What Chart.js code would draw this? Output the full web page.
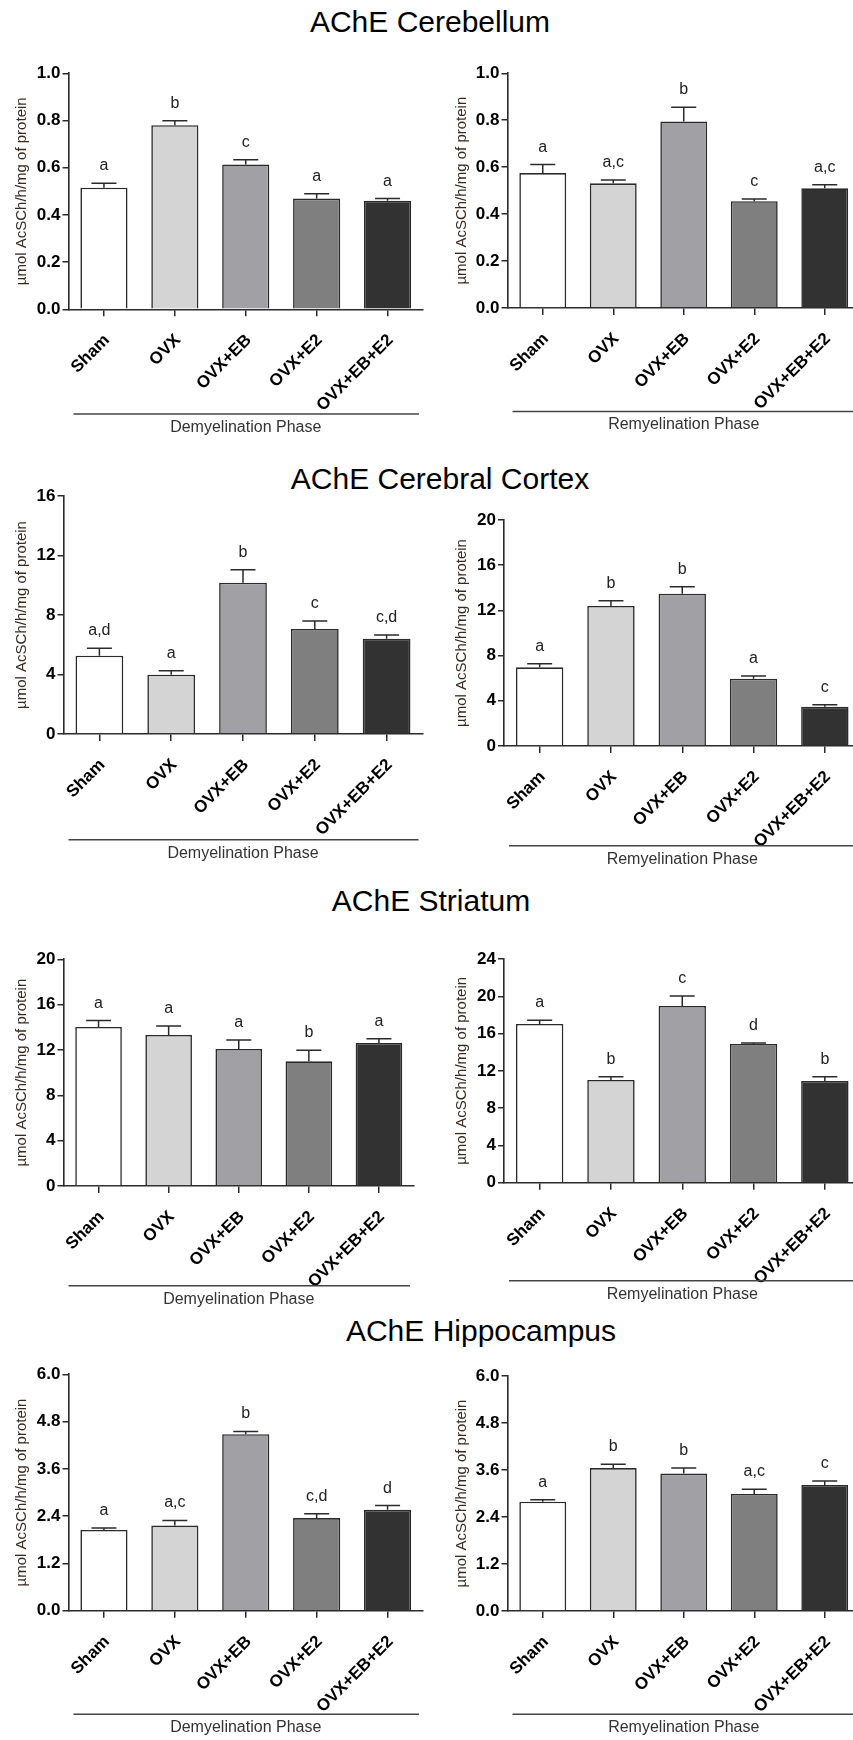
<!DOCTYPE html>
<html>
<head>
<meta charset="utf-8">
<script src="https://cdn.jsdelivr.net/npm/chart.js@4.4.0/dist/chart.umd.min.js"></script>
<style>
  html, body { margin: 0; padding: 0; background: #fff; overflow: hidden; }
  #page { position: relative; width: 853px; height: 1740px; overflow: hidden; background: #fff; }
  .title { position: absolute; width: 600px; text-align: center; font: 30px Arial, "Liberation Sans", sans-serif; line-height: 30px; color: #000; white-space: nowrap; }
  canvas { position: absolute; }
</style>
</head>
<body>
<div id="page">
  <div class="title" style="left:130px; top:6.6px">AChE Cerebellum</div>
  <div class="title" style="left:140px; top:463.6px">AChE Cerebral Cortex</div>
  <div class="title" style="left:131px; top:886.3px">AChE Striatum</div>
  <div class="title" style="left:181px; top:1316.3px">AChE Hippocampus</div>
</div>
<script>
const groups = ["Sham", "OVX", "OVX+EB", "OVX+E2", "OVX+EB+E2"];
const yTitle = "µmol AcSCh/h/mg of protein";

// cerebellum
const cerebellumDemy = [0.515, 0.78, 0.614, 0.469, 0.46];
const cerebellumDemyErr = [0.019, 0.019, 0.02, 0.021, 0.009];
const cerebellumDemyLetters = ["a", "b", "c", "a", "a"];
const cerebellumRemy = [0.575, 0.531, 0.795, 0.455, 0.51];
const cerebellumRemyErr = [0.036, 0.014, 0.06, 0.009, 0.015];
const cerebellumRemyLetters = ["a", "a,c", "b", "c", "a,c"];
const cerebellumTicks = ["0.0", "0.2", "0.4", "0.6", "0.8", "1.0"];

// cerebral cortex
const cortexDemy = [5.26, 3.99, 10.17, 7.06, 6.41];
const cortexDemyErr = [0.5, 0.27, 0.88, 0.54, 0.25];
const cortexDemyLetters = ["a,d", "a", "b", "c", "c,d"];
const cortexDemyTicks = ["0", "4", "8", "12", "16"];
const cortexRemy = [6.96, 12.39, 13.48, 5.96, 3.48];
const cortexRemyErr = [0.32, 0.47, 0.62, 0.23, 0.18];
const cortexRemyLetters = ["a", "b", "b", "a", "c"];
const cortexRemyTicks = ["0", "4", "8", "12", "16", "20"];

// striatum
const striatumDemy = [14.03, 13.33, 12.09, 11.0, 12.62];
const striatumDemyErr = [0.56, 0.79, 0.79, 0.97, 0.38];
const striatumDemyLetters = ["a", "a", "a", "b", "a"];
const striatumDemyTicks = ["0", "4", "8", "12", "16", "20"];
const striatumRemy = [17.03, 11.02, 18.96, 14.88, 10.91];
const striatumRemyErr = [0.39, 0.35, 1.07, 0.11, 0.46];
const striatumRemyLetters = ["a", "b", "c", "d", "b"];
const striatumRemyTicks = ["0", "4", "8", "12", "16", "20", "24"];

// hippocampus
const hippoDemy = [2.05, 2.16, 4.48, 2.35, 2.56];
const hippoDemyErr = [0.05, 0.13, 0.07, 0.11, 0.11];
const hippoDemyLetters = ["a", "a,c", "b", "c,d", "d"];
const hippoRemy = [2.79, 3.65, 3.51, 2.99, 3.22];
const hippoRemyErr = [0.05, 0.1, 0.14, 0.12, 0.1];
const hippoRemyLetters = ["a", "b", "b", "a,c", "c"];
const hippoTicks = ["0.0", "1.2", "2.4", "3.6", "4.8", "6.0"];

const barColors = ["#ffffff", "#d4d4d4", "#a1a1a5", "#7f7f7f", "#323232"];
const fontFamily = "Arial, 'Liberation Sans', sans-serif";

// error bars, significance letters and the phase line
const marksPlugin = {
  id: "marks",
  afterDatasetsDraw(chart, args, opts) {
    const ctx = chart.ctx;
    const y = chart.scales.y;
    const vals = chart.data.datasets[0].data;
    ctx.save();
    ctx.strokeStyle = "#2a2a2a";
    ctx.lineWidth = 1.5;
    ctx.fillStyle = "#222";
    ctx.font = "16px " + fontFamily;
    ctx.textAlign = "center";
    ctx.textBaseline = "alphabetic";
    chart.getDatasetMeta(0).data.forEach(function (bar, i) {
      const top = y.getPixelForValue(vals[i]);
      const hi = y.getPixelForValue(vals[i] + opts.errors[i]);
      ctx.beginPath();
      ctx.moveTo(bar.x, top);
      ctx.lineTo(bar.x, hi);
      ctx.moveTo(bar.x - 12.5, hi);
      ctx.lineTo(bar.x + 12.5, hi);
      ctx.stroke();
      ctx.fillText(opts.letters[i], bar.x, hi - 13);
    });
    const area = chart.chartArea;
    ctx.strokeStyle = "#444";
    ctx.beginPath();
    ctx.moveTo(area.left + 5, opts.lineY);
    ctx.lineTo(area.right - 4, opts.lineY);
    ctx.stroke();
    ctx.restore();
  }
};

function makePanel(p) {
  const canvasW = p.left === 0 ? 432 : 425;
  const top = Math.round(p.plotT - 30);
  const height = Math.ceil(p.capY + 14 - top);
  const bottom = top + height;

  const canvas = document.createElement("canvas");
  canvas.width = canvasW;
  canvas.height = height;
  canvas.style.left = p.left + "px";
  canvas.style.top = top + "px";
  document.getElementById("page").appendChild(canvas);

  const ticks = p.ticks;

  new Chart(canvas, {
    type: "bar",
    data: {
      labels: groups,
      datasets: [{
        data: p.values,
        backgroundColor: barColors,
        borderColor: "#2a2a2a",
        borderWidth: 1.6,
        borderSkipped: "start",
        barPercentage: 0.665,
        categoryPercentage: 1
      }]
    },
    options: {
      responsive: false,
      animation: false,
      devicePixelRatio: 1,
      layout: {
        padding: { top: p.plotT - top, right: p.left + canvasW - p.plotR, left: 0, bottom: 0 }
      },
      plugins: {
        legend: { display: false },
        tooltip: { enabled: false },
        marks: { errors: p.errors, letters: p.letters, lineY: p.capY - 13.5 - top }
      },
      scales: {
        x: {
          offset: true,
          grid: { drawOnChartArea: false, tickLength: 7, offset: false, color: "#2a2a2a", lineWidth: 1.5 },
          border: { color: "#2a2a2a", width: 1.6 },
          ticks: {
            autoSkip: false, maxRotation: 45, minRotation: 45, padding: 14, labelOffset: 3, color: "#000",
            font: { family: fontFamily, size: 17, weight: "bold" }
          },
          title: {
            display: true, text: p.phase, color: "#333",
            font: { family: fontFamily, size: 16 },
            padding: { top: 0, bottom: bottom - p.capY - 9.6 }
          },
          afterFit: function (scale) {
            scale.height = bottom - p.plotB;
            scale.paddingLeft = 0;
            scale.paddingRight = 0;
          }
        },
        y: {
          min: 0,
          max: parseFloat(ticks[ticks.length - 1]),
          grid: { drawOnChartArea: false, tickLength: 6, color: "#2a2a2a", lineWidth: 1.5 },
          border: { color: "#2a2a2a", width: 1.6 },
          ticks: {
            stepSize: parseFloat(ticks[1]), padding: 2, color: "#000",
            font: { family: fontFamily, size: 17, weight: "bold" },
            callback: function (v, i) { return ticks[i]; }
          },
          title: {
            display: true, text: yTitle, color: "#3a2a1e",
            font: { family: fontFamily, size: 15 },
            padding: { top: 12.7, bottom: 0 }
          },
          afterFit: function (scale) {
            scale.width = p.plotL - p.left;
          }
        }
      }
    },
    plugins: [marksPlugin]
  });
}

const demy = "Demyelination Phase";
const remy = "Remyelination Phase";

makePanel({ left: 0, plotL: 68.5, plotT: 73.3, plotR: 423, plotB: 309.3, capY: 427.5, phase: demy,
  values: cerebellumDemy, errors: cerebellumDemyErr, letters: cerebellumDemyLetters, ticks: cerebellumTicks });
makePanel({ left: 440, plotL: 507.5, plotT: 73.3, plotR: 860, plotB: 308, capY: 425, phase: remy,
  values: cerebellumRemy, errors: cerebellumRemyErr, letters: cerebellumRemyLetters, ticks: cerebellumTicks });
makePanel({ left: 0, plotL: 63.5, plotT: 496, plotR: 422.5, plotB: 734, capY: 853.3, phase: demy,
  values: cortexDemy, errors: cortexDemyErr, letters: cortexDemyLetters, ticks: cortexDemyTicks });
makePanel({ left: 440, plotL: 504, plotT: 520, plotR: 860.5, plotB: 746, capY: 859.3, phase: remy,
  values: cortexRemy, errors: cortexRemyErr, letters: cortexRemyLetters, ticks: cortexRemyTicks });
makePanel({ left: 0, plotL: 63.5, plotT: 959.3, plotR: 414, plotB: 1186, capY: 1299.3, phase: demy,
  values: striatumDemy, errors: striatumDemyErr, letters: striatumDemyLetters, ticks: striatumDemyTicks });
makePanel({ left: 440, plotL: 504, plotT: 959, plotR: 860.5, plotB: 1182.7, capY: 1294.3, phase: remy,
  values: striatumRemy, errors: striatumRemyErr, letters: striatumRemyLetters, ticks: striatumRemyTicks });
makePanel({ left: 0, plotL: 68.5, plotT: 1374.3, plotR: 423, plotB: 1610.7, capY: 1727.7, phase: demy,
  values: hippoDemy, errors: hippoDemyErr, letters: hippoDemyLetters, ticks: hippoTicks });
makePanel({ left: 440, plotL: 507.5, plotT: 1376, plotR: 860, plotB: 1611, capY: 1727.7, phase: remy,
  values: hippoRemy, errors: hippoRemyErr, letters: hippoRemyLetters, ticks: hippoTicks });
</script>
</body>
</html>
